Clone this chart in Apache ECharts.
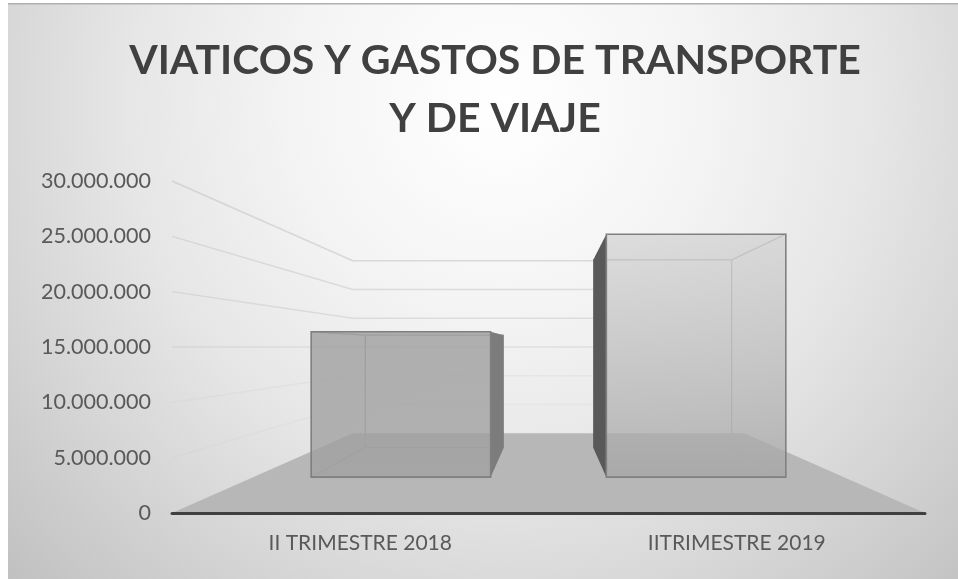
<!DOCTYPE html>
<html>
<head>
<meta charset="utf-8">
<style>html,body{margin:0;padding:0;background:#fff}#c{width:958px;height:579px}</style>
<script src="https://cdn.jsdelivr.net/npm/echarts@6/dist/echarts.min.js"></script>
</head>
<body>
<div id="c"></div>
<script>
const categories = ['II TRIMESTRE 2018', 'IITRIMESTRE 2019'];
const values = [16760000, 28000000];
const wallTicks = [5000000, 10000000, 15000000, 20000000, 25000000, 30000000];
const yMax = 30000000;
const yInterval = 5000000;

// perspective scales (front plane = 1), vanishing point sits at mid-width / mid-height of the grid
const backScale = 0.52, barFrontScale = 0.784, barBackScale = 0.605, barWidthRatio = 0.608;
const wallOpacity = [0.1, 0.16, 0.32, 0.4, 0.45, 0.5];
const faceFill = [
  {top:'rgba(156,156,156,0.78)', bottom:'rgba(160,160,160,0.76)', side:'#7c7c7c', inner:'#a3a3a3', edge:'#7f7f7f'},
  {top:'rgba(205,205,205,0.62)', bottom:'rgba(165,165,165,0.76)', side:'#595959', inner:'#b4b4b4', edge:'#808080'}
];

function projector(params, api) {
  const g = params.coordSys;
  const vx = g.x + g.width / 2, vy = api.coord([0, yMax / 2])[1];
  return (x, y, s) => [vx + (x - vx) * s, vy + (y - vy) * s];
}

function renderFloor(params, api) {
  const g = params.coordSys, P = projector(params, api);
  const y0 = api.coord([0, 0])[1], L = g.x, R = g.x + g.width;
  return {type:'polygon', silent:true,
    shape:{points:[P(L,y0,1), P(R,y0,1), P(R,y0,backScale), P(L,y0,backScale)]},
    style:{fill:'#b7b7b7'}};
}

function renderWall(params, api) {
  const g = params.coordSys, P = projector(params, api);
  const y = api.coord([0, api.value(1)])[1], L = g.x;
  // back-wall lines stop behind the second bar, where the picture no longer shows them
  const stopX = api.coord([1, 0])[0] - api.size([1, 0])[0] * barWidthRatio / 2;
  const a = wallOpacity[params.dataIndex];
  const stop = P(stopX, y, barBackScale), corner = P(L, y, backScale);
  return {type:'polyline', silent:true,
    shape:{points:[P(L,y,1), corner, [stop[0], corner[1]]]},
    style:{fill:null, stroke:'rgba(190,190,190,'+a+')', lineWidth:1.4}};
}

function renderBar(params, api) {
  const P = projector(params, api);
  const i = params.dataIndex, c = api.coord([api.value(0), api.value(1)]);
  const y0 = api.coord([api.value(0), 0])[1];
  const w = api.size([1, 0])[0] * barWidthRatio, xL = c[0] - w / 2, xR = c[0] + w / 2, yT = c[1];
  const f = barFrontScale, b = barBackScale, st = faceFill[i];
  const sideX = i === 0 ? xR : xL;
  const line = (a, d) => ({type:'line', silent:true, shape:{x1:a[0],y1:a[1],x2:d[0],y2:d[1]},
    style:{stroke:st.inner, lineWidth:1.3}});
  const FTL=P(xL,yT,f), FTR=P(xR,yT,f), FBL=P(xL,y0,f), FBR=P(xR,y0,f);
  const BTL=P(xL,yT,b), BTR=P(xR,yT,b), BBL=P(xL,y0,b), BBR=P(xR,y0,b);
  const innerX = i === 0 ? [BTL,BBL,FBL,FTL] : [BTR,BBR,FBR,FTR];
  return {type:'group', silent:true, children:[
    line(BTL,BTR), line(BBL,BBR),
    line(innerX[0],innerX[1]), line(innerX[1],innerX[2]), line(innerX[0],innerX[3]),
    {type:'polygon', shape:{points:[P(sideX,yT,f),P(sideX,yT,b),P(sideX,y0,b),P(sideX,y0,f)]}, style:{fill:st.side}},
    {type:'polygon', shape:{points:[FTL,FTR,FBR,FBL]},
      style:{stroke:st.edge, lineWidth:1.6,
        fill:{type:'linear',x:0,y:0,x2:0,y2:1,colorStops:[{offset:0,color:st.top},{offset:1,color:st.bottom}]}}}
  ]};
}

const chart = echarts.init(document.getElementById('c'), null, {renderer:'canvas'});
chart.setOption({
  animation:false,
  backgroundColor:'#ffffff',
  graphic:[
    {type:'rect', z:-10, silent:true, shape:{x:8,y:3,width:950,height:576},
      style:{fill:{type:'radial',x:500,y:105,r:680,global:true,colorStops:[
        {offset:0,color:'#ffffff'},{offset:0.3,color:'#f4f4f4'},{offset:0.55,color:'#e6e6e6'},
        {offset:0.75,color:'#d6d6d6'},{offset:1,color:'#c1c1c1'}]}}},
    {type:'rect', z:-9, silent:true, shape:{x:8,y:3,width:950,height:1.5}, style:{fill:'#b0b0b0'}}
  ],
  title:{
    text:'VIATICOS Y GASTOS DE TRANSPORTE\nY DE VIAJE',
    left:490, top:27, textAlign:'center',
    textStyle:{fontFamily:'Lato',fontWeight:'bold',fontSize:41,lineHeight:58,color:'#404040'}
  },
  grid:{left:172,right:33,top:181,bottom:66},
  xAxis:{type:'category',data:categories,z:10,
    axisLine:{show:true,lineStyle:{color:'#404040',width:3,cap:'round'}},
    axisTick:{show:false},
    splitLine:{show:false},
    axisLabel:{fontFamily:'Lato',fontSize:21,color:'#595959',margin:20}},
  yAxis:{type:'value',min:0,max:yMax,interval:yInterval,
    axisLine:{show:false},axisTick:{show:false},splitLine:{show:false},
    axisLabel:{fontFamily:'Lato',fontSize:21.5,color:'#595959',margin:21,padding:[3,0,0,0],
      formatter:v=>String(v).replace(/\B(?=(\d{3})+$)/g,'.')}},
  series:[
    {type:'custom',name:'floor',z:1,renderItem:renderFloor,clip:false,silent:true,
      data:[[categories[0],0]],encode:{x:0,y:1}},
    {type:'custom',name:'walls',z:2,renderItem:renderWall,clip:false,silent:true,
      data:wallTicks.map(t=>[categories[0],t]),encode:{x:0,y:1}},
    {type:'custom',name:'bars',z:3,renderItem:renderBar,clip:false,silent:true,
      data:categories.map((c,i)=>[c,values[i]]),encode:{x:0,y:1}}
  ]
});
</script>
</body>
</html>
